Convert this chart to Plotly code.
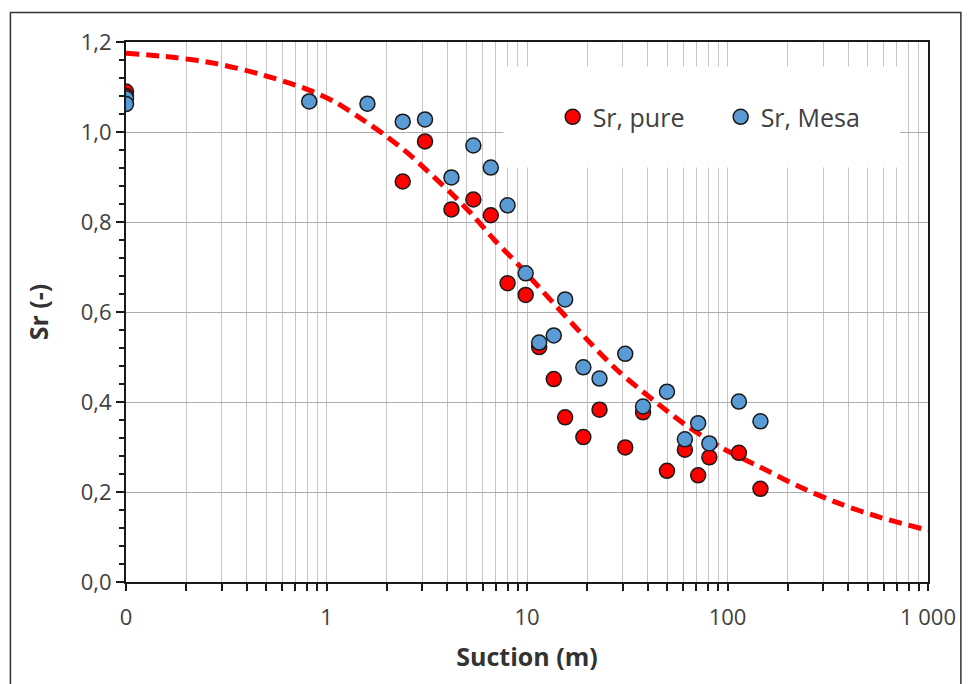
import plotly.graph_objects as go

# ---- data (suction 0 is plotted at 0.1 on the log axis) ----
pure_suction = [0.1, 0.1, 2.4, 3.1, 4.2, 5.4, 6.6, 8.0, 9.85, 11.5, 13.6, 15.5, 19.1,
                23.0, 30.9, 37.9, 49.9, 61.3, 71.4, 81.2, 114, 146]
pure_sr = [1.09, 1.08, 0.89, 0.979, 0.828, 0.85, 0.815, 0.664, 0.638, 0.522, 0.451, 0.366,
           0.322, 0.383, 0.299, 0.377, 0.247, 0.294, 0.237, 0.277, 0.287, 0.207]

mesa_suction = [0.1, 0.1, 0.82, 1.6, 2.4, 3.1, 4.2, 5.4, 6.6, 8.0, 9.85, 11.5, 13.6, 15.5,
                19.1, 23.0, 30.9, 37.9, 49.9, 61.3, 71.4, 81.2, 114, 146]
mesa_sr = [1.075, 1.062, 1.068, 1.063, 1.023, 1.028, 0.899, 0.97, 0.921, 0.837, 0.686, 0.532,
           0.548, 0.628, 0.477, 0.452, 0.507, 0.390, 0.423, 0.317, 0.353, 0.308, 0.401, 0.357]

fit_suction = [0.1, 0.172, 0.282, 0.462, 0.789, 1.11, 1.45, 1.97, 2.56, 3.23, 4.21, 5.29,
               6.92, 9.02, 10.9, 20.1, 28.3, 43.0, 60.5, 92, 146, 230, 363, 573, 942, 1000]
fit_sr = [1.175, 1.166, 1.152, 1.129, 1.096, 1.066, 1.033, 0.992, 0.952, 0.911, 0.863, 0.818,
          0.759, 0.706, 0.666, 0.537, 0.470, 0.403, 0.352, 0.300, 0.255, 0.211, 0.174, 0.144,
          0.118, 0.115]

x_tick_vals = [m * 10 ** e for e in range(-1, 3) for m in range(1, 10)] + [1000]
x_tick_text = {0.1: "0", 1: "1", 10: "10", 100: "100", 1000: "1 000"}

FONT = "Open Sans"

fig = go.Figure()
fig.add_trace(go.Scatter(
    x=fit_suction, y=fit_sr, mode="lines", line_shape="spline", showlegend=False,
    line=dict(color="#FF0000", width=5, dash="13px,7px", smoothing=0.8), hoverinfo="skip"))
fig.add_trace(go.Scatter(
    x=pure_suction, y=pure_sr, mode="markers", name="Sr, pure",
    marker=dict(size=15, color="#FF0000", line=dict(color="#1a1a1a", width=1.5))))
fig.add_trace(go.Scatter(
    x=mesa_suction, y=mesa_sr, mode="markers", name="Sr, Mesa",
    marker=dict(size=15, color="#5B9BD5", line=dict(color="#1a1a1a", width=1.5))))

ticktext = [x_tick_text.get(round(v, 6), "") for v in x_tick_vals]

fig.update_layout(
    width=968, height=684,
    margin=dict(l=126, r=37, t=42, b=102),
    paper_bgcolor="white", plot_bgcolor="white",
    separators=", ",
    font=dict(family=FONT, color="#404040"),
    xaxis=dict(
        type="log", range=[-1, 3], tickmode="array", tickvals=x_tick_vals, ticktext=ticktext,
        showgrid=True, gridcolor="#C4C4C4", gridwidth=1.2,
        ticks="outside", ticklen=7, tickcolor="#1a1a1a", tickwidth=1.5,
        showline=True, linecolor="#1a1a1a", linewidth=2, mirror=True,
        tickfont=dict(size=22, color="#404040"), ticklabelstandoff=8,
        title=dict(text="<b>Suction (m)</b>", font=dict(size=25, color="#333333"), standoff=18),
        zeroline=False),
    yaxis=dict(
        range=[0, 1.2], dtick=0.2, tickformat=".1f",
        showgrid=True, gridcolor="#ADADAD", gridwidth=1.3,
        ticks="outside", ticklen=8, tickcolor="#1a1a1a", tickwidth=1.5,
        minor=dict(dtick=0.04, ticks="outside", ticklen=5, tickcolor="#1a1a1a", showgrid=False),
        showline=True, linecolor="#1a1a1a", linewidth=2, mirror=True,
        tickfont=dict(size=22, color="#404040"),
        title=dict(text="<b>Sr (-)</b>", font=dict(size=25, color="#333333"), standoff=25),
        zeroline=False),
    legend=dict(
        orientation="h", x=0.532, xanchor="left", y=0.861, yanchor="middle",
        bgcolor="rgba(0,0,0,0)", font=dict(size=25, color="#404040"),
        entrywidth=123, entrywidthmode="pixels"),
    shapes=[
        dict(type="rect", xref="paper", yref="paper", x0=0.4708, x1=0.9652, y0=0.7676, y1=0.9546,
             fillcolor="white", line=dict(width=0), layer="above"),
        dict(type="rect", xref="paper", yref="paper", x0=-0.1441, x1=1.041, y0=-0.2, y1=1.0546,
             fillcolor="rgba(0,0,0,0)", line=dict(color="#333333", width=1.5), layer="above"),
    ],
)

fig.write_html("out.html")
